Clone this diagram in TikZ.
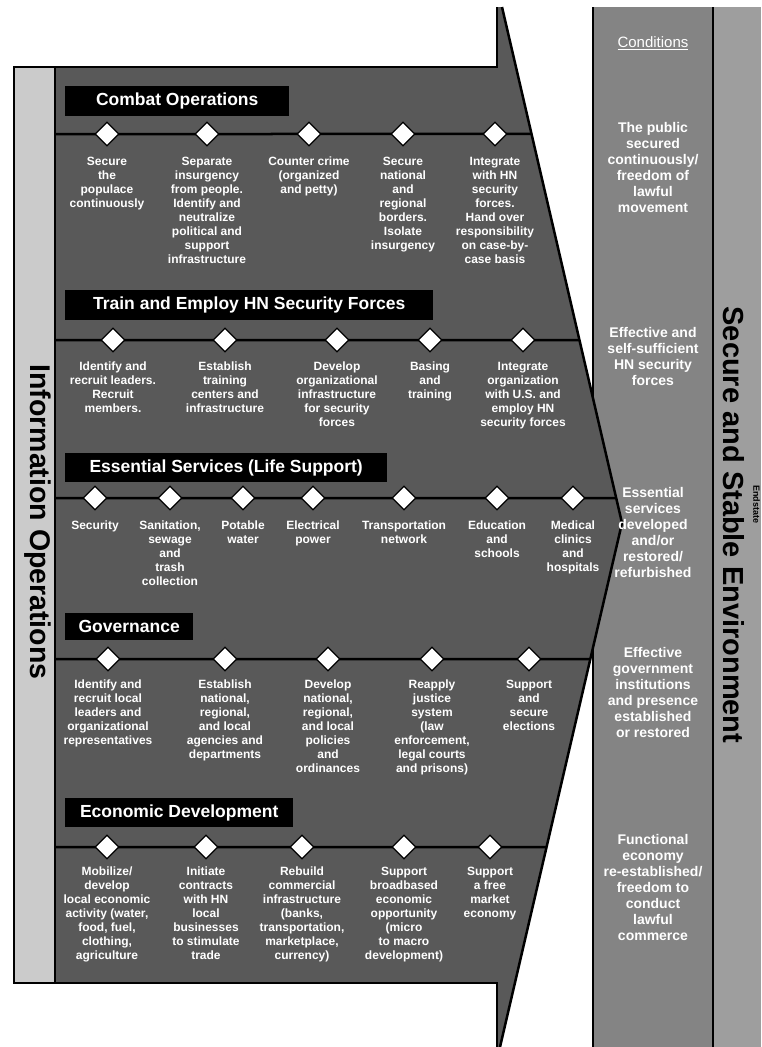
\documentclass[tikz,border=0pt]{standalone}
\usepackage{fontspec}
\setmainfont{Liberation Sans}
\usetikzlibrary{shapes.geometric,calc}
\definecolor{arrowgray}{HTML}{595959}
\definecolor{condgray}{HTML}{848484}
\definecolor{envgray}{HTML}{9E9E9E}
\definecolor{stripgray}{HTML}{CBCBCB}
\begin{document}
\begin{tikzpicture}[x=1pt,y=-1pt,
  dia/.style={diamond, draw=black, line width=1.2pt, fill=white, minimum width=24pt, minimum height=24pt, inner sep=0pt},
  desc/.style={anchor=north, align=center, inner sep=0pt, text=white, font=\fontsize{12}{14}\selectfont\bfseries},
  hdr/.style={anchor=west, fill=black, text=white, inner sep=0pt, font=\fontsize{17.5}{20}\selectfont\bfseries},
  cond/.style={anchor=north, align=center, inner sep=0pt, text=white, font=\fontsize{14}{16}\selectfont\bfseries},
  sect/.style={line width=2.5pt, draw=black},
  edge/.style={line width=2.5pt, draw=black},
]
\useasboundingbox (0,0) rectangle (761,1047);
% right columns
\fill[condgray] (593,7) rectangle (713,1047);
\fill[envgray] (713,7) rectangle (761,1047);
\draw[edge] (593,7) -- (593,1047) (713,7) -- (713,1047);
% arrow
\coordinate (atop) at (502,7);
\coordinate (tip) at (622,523);
\coordinate (abot) at (500,1047);
\fill[arrowgray] (14,67) -- (497,67) -- (497,7) -- (atop) -- (tip) -- (abot) -- (497,1047) -- (497,983) -- (14,983) -- cycle;
% section lines
\foreach \n/\yy in {1/134,2/340,3/498} {
  \coordinate (L\n) at (55,\yy);
  \coordinate (R\n) at ($(atop)!{(\yy-7)/516}!(tip)$);
  \draw[sect] (L\n) -- (R\n);
}
\foreach \n/\yy in {4/659,5/847} {
  \coordinate (L\n) at (55,\yy);
  \coordinate (R\n) at ($(tip)!{(\yy-523)/524}!(abot)$);
  \draw[sect] (L\n) -- (R\n);
}
\draw[edge] (497,7) -- (497,67) -- (14,67) -- (14,983) -- (497,983) -- (497,1047);
\draw[edge] (atop) -- (tip) -- (abot);
% left strip
\draw[edge, fill=stripgray] (14,67) rectangle (55,983);
\node[rotate=-90, inner sep=0pt, font=\fontsize{28.5}{30}\selectfont\bfseries] (io) at (38,522) {Information Operations};
\node[rotate=-90, inner sep=0pt, font=\fontsize{29}{30}\selectfont\bfseries] (sse) at (734,525) {Secure and Stable Environment};
\node[rotate=-90, anchor=south west, inner sep=0pt, font=\fontsize{9}{10}\selectfont\bfseries] (es) at (753,485) {Endstate};

% headers
\node[hdr, minimum width=224pt, minimum height=30pt] (h1) at (65,101) {Combat Operations};
\node[hdr, minimum width=368pt, minimum height=30pt] (h2) at (65,305) {Train and Employ HN Security Forces};
\node[hdr, minimum width=322pt, minimum height=29pt] (h3) at (65,467.5) {Essential Services (Life Support)};
\node[hdr, minimum width=128pt, minimum height=27pt] (h4) at (65,626.5) {Governance};
\node[hdr, minimum width=228pt, minimum height=29pt] (h5) at (65,812.5) {Economic Development};

% Combat operations
\node[dia] (c1) at (107,134) {};
\node[dia] (c2) at (207,134) {};
\node[dia] (c3) at (309,134) {};
\node[dia] (c4) at (403,134) {};
\node[dia] (c5) at (495,134) {};
\node[desc] (c1t) at (107,157) {Secure\\the\\populace\\continuously};
\node[desc] (c2t) at (207,157) {Separate\\insurgency\\from people.\\Identify and\\neutralize\\political and\\support\\infrastructure};
\node[desc] (c3t) at (309,157) {Counter crime\\(organized\\and petty)};
\node[desc] (c4t) at (403,157) {Secure\\national\\and\\regional\\borders.\\Isolate\\insurgency};
\node[desc] (c5t) at (495,157) {Integrate\\with HN\\security\\forces.\\Hand over\\responsibility\\on case-by-\\case basis};

% Train and employ
\node[dia] (t1) at (113,340) {};
\node[dia] (t2) at (225,340) {};
\node[dia] (t3) at (337,340) {};
\node[dia] (t4) at (430,340) {};
\node[dia] (t5) at (523,340) {};
\node[desc] (t1t) at (113,362) {Identify and\\recruit leaders.\\Recruit\\members.};
\node[desc] (t2t) at (225,362) {Establish\\training\\centers and\\infrastructure};
\node[desc] (t3t) at (337,362) {Develop\\organizational\\infrastructure\\for security\\forces};
\node[desc] (t4t) at (430,362) {Basing\\and\\training};
\node[desc] (t5t) at (523,362) {Integrate\\organization\\with U.S. and\\employ HN\\security forces};

% Essential services
\node[dia] (e1) at (95,498) {};
\node[dia] (e2) at (170,498) {};
\node[dia] (e3) at (243,498) {};
\node[dia] (e4) at (313,498) {};
\node[dia] (e5) at (404,498) {};
\node[dia] (e6) at (497,498) {};
\node[dia] (e7) at (573,498) {};
\node[desc] (e1t) at (95,521) {Security};
\node[desc] (e2t) at (170,521) {Sanitation,\\sewage\\and\\trash\\collection};
\node[desc] (e3t) at (243,521) {Potable\\water};
\node[desc] (e4t) at (313,521) {Electrical\\power};
\node[desc] (e5t) at (404,521) {Transportation\\network};
\node[desc] (e6t) at (497,521) {Education\\and\\schools};
\node[desc] (e7t) at (573,521) {Medical\\clinics\\and\\hospitals};

% Governance
\node[dia] (g1) at (108,659) {};
\node[dia] (g2) at (225,659) {};
\node[dia] (g3) at (328,659) {};
\node[dia] (g4) at (432,659) {};
\node[dia] (g5) at (529,659) {};
\node[desc] (g1t) at (108,680) {Identify and\\recruit local\\leaders and\\organizational\\representatives};
\node[desc] (g2t) at (225,680) {Establish\\national,\\regional,\\and local\\agencies and\\departments};
\node[desc] (g3t) at (328,680) {Develop\\national,\\regional,\\and local\\policies\\and\\ordinances};
\node[desc] (g4t) at (432,680) {Reapply\\justice\\system\\(law\\enforcement,\\legal courts\\and prisons)};
\node[desc] (g5t) at (529,680) {Support\\and\\secure\\elections};

% Economic development
\node[dia] (d1) at (107,847) {};
\node[dia] (d2) at (206,847) {};
\node[dia] (d3) at (302,847) {};
\node[dia] (d4) at (404,847) {};
\node[dia] (d5) at (490,847) {};
\node[desc] (d1t) at (107,867) {Mobilize/\\develop\\local economic\\activity (water,\\food, fuel,\\clothing,\\agriculture};
\node[desc] (d2t) at (206,867) {Initiate\\contracts\\with HN\\local\\businesses\\to stimulate\\trade};
\node[desc] (d3t) at (302,867) {Rebuild\\commercial\\infrastructure\\(banks,\\transportation,\\marketplace,\\currency)};
\node[desc] (d4t) at (404,867) {Support\\broadbased\\economic\\opportunity\\(micro\\to macro\\development)};
\node[desc] (d5t) at (490,867) {Support\\a free\\market\\economy};

% Conditions column
\node[inner sep=0pt, text=white, font=\fontsize{15}{16}\selectfont] (cond) at (653,43) {\underline{Conditions}};
\node[cond] (k1) at (653,122) {The public\\secured\\continuously/\\freedom of\\lawful\\movement};
\node[cond] (k2) at (653,327) {Effective and\\self-sufficient\\HN security\\forces};
\node[cond] (k3) at (653,487) {Essential\\services\\developed\\and/or\\restored/\\refurbished};
\node[cond] (k4) at (653,647) {Effective\\government\\institutions\\and presence\\established\\or restored};
\node[cond] (k5) at (653,834) {Functional\\economy\\re-established/\\freedom to\\conduct\\lawful\\commerce};
\end{tikzpicture}
\end{document}
